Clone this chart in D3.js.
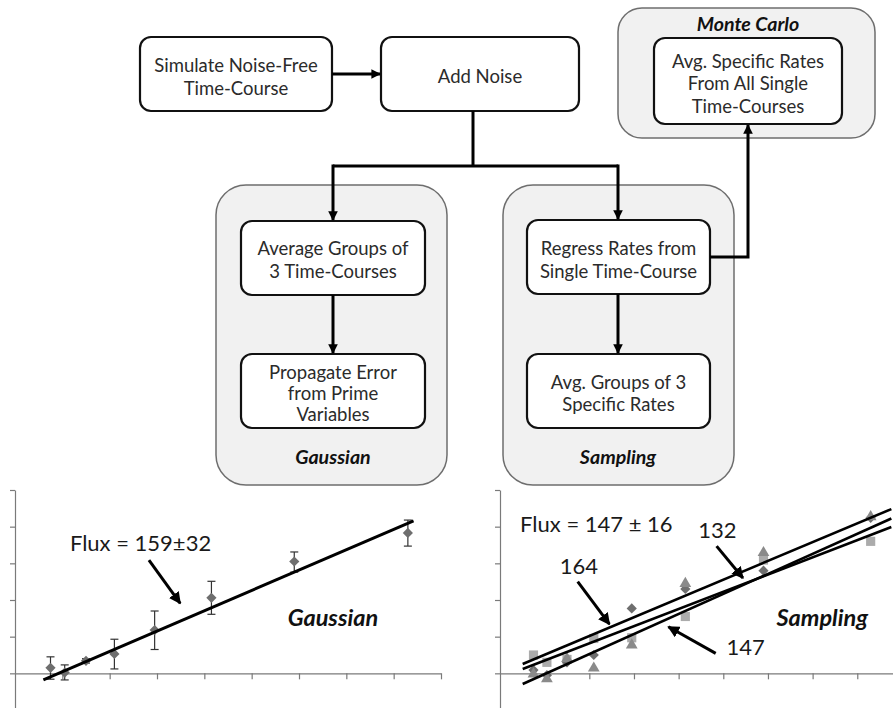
<!DOCTYPE html>
<html>
<head>
<meta charset="utf-8">
<script src="https://cdn.jsdelivr.net/npm/d3@7"></script>
<style>
  body { margin: 0; background: #fff; }
  svg { display: block; font-family: Lato, "Open Sans", sans-serif; }
</style>
</head>
<body>
<svg id="fig" width="893" height="708"></svg>
<script>
// ---- flowchart texts ----
const simulateText = ["Simulate Noise-Free", "Time-Course"];
const noiseText = ["Add Noise"];
const gaussStep1 = ["Average Groups of", "3 Time-Courses"];
const gaussStep2 = ["Propagate Error", "from Prime", "Variables"];
const sampStep1 = ["Regress Rates from", "Single Time-Course"];
const sampStep2 = ["Avg. Groups of 3", "Specific Rates"];
const monteText = ["Avg. Specific Rates", "From All Single", "Time-Courses"];
const groupTitles = ["Gaussian", "Sampling", "Monte Carlo"];

// ---- chart data ----
const timePoints = [0.75, 1.05, 1.5, 2.1, 2.95, 4.15, 5.9, 8.3];
const gaussMean = [0.15, 0.02, 0.34, 0.53, 1.18, 2.06, 3.05, 3.83];
const gaussLow  = [-0.16, -0.18, 0.28, 0.12, 0.65, 1.61, 2.76, 3.47];
const gaussHigh = [0.45, 0.23, 0.40, 0.93, 1.70, 2.51, 3.31, 4.18];
const gaussSlope = 0.555, gaussIntercept = -0.513;
const gaussFitRange = [0.6, 8.42];

const sampSquare   = [0.50, 0.30, 0.38, 0.95, 0.97, 1.55, 3.09, 3.60];
const sampDiamond  = [0.09, -0.05, 0.30, 0.50, 1.77, 2.30, 2.80, 4.24];
const sampTriangle = [-0.02, -0.15, 0.40, 0.14, 0.77, 2.45, 3.29, 4.27];
const sampSlopes = [0.512, 0.547, 0.469];
const sampIntercepts = [-0.007, -0.570, -0.121];
const sampFitRange = [0.508, 8.763];

const gaussLabel = "Flux  = 159±32";
const sampLabel = "Flux = 147 ± 16";
const fitLabels = ["164", "132", "147"];
const yTicks = [-1, 0, 1, 2, 3, 4, 5];

const svg = d3.select("#fig");
const textColor = "#2b2b2b";

const defs = svg.append("defs");
defs.append("marker")
    .attr("id", "head")
    .attr("viewBox", "0 0 10 10")
    .attr("refX", 9).attr("refY", 5)
    .attr("markerWidth", 3.2).attr("markerHeight", 3.2)
    .attr("markerUnits", "strokeWidth")
    .attr("orient", "auto")
    .append("path").attr("d", "M0,0 L10,5 L0,10 Z").attr("fill", "#000");
defs.append("marker")
    .attr("id", "bighead")
    .attr("viewBox", "0 0 10 10")
    .attr("refX", 9).attr("refY", 5)
    .attr("markerWidth", 4).attr("markerHeight", 4)
    .attr("markerUnits", "strokeWidth")
    .attr("orient", "auto")
    .append("path").attr("d", "M0,0 L10,5 L0,10 Z").attr("fill", "#000");

// ---- flowchart ----
function groupBox(x, y, w, h, r) {
    svg.append("rect")
        .attr("x", x).attr("y", y).attr("width", w).attr("height", h)
        .attr("rx", r).attr("ry", r)
        .attr("fill", "#f1f1f1").attr("stroke", "#6e6e6e").attr("stroke-width", 1.5);
}

function stepBox(x, y, w, h, lines, lineYs) {
    svg.append("rect")
        .attr("x", x).attr("y", y).attr("width", w).attr("height", h)
        .attr("rx", 11).attr("ry", 11)
        .attr("fill", "#fff").attr("stroke", "#111").attr("stroke-width", 2.2);
    svg.append("g").selectAll("text").data(lines).join("text")
        .attr("x", x + w / 2)
        .attr("y", (d, i) => lineYs[i])
        .attr("text-anchor", "middle")
        .attr("dominant-baseline", "central")
        .attr("font-size", 18.5)
        .attr("fill", textColor)
        .text(d => d);
}

function title(x, y, t) {
    svg.append("text")
        .attr("x", x).attr("y", y)
        .attr("text-anchor", "middle")
        .attr("dominant-baseline", "central")
        .attr("font-size", 19.6)
        .attr("font-weight", "bold")
        .attr("font-style", "italic")
        .attr("fill", "#111")
        .text(t);
}

function connector(points, withHead) {
    svg.append("path")
        .attr("d", d3.line()(points))
        .attr("fill", "none")
        .attr("stroke", "#000")
        .attr("stroke-width", 3)
        .attr("marker-end", withHead ? "url(#head)" : null);
}

groupBox(216, 185, 231, 300, 30);
groupBox(503, 185, 231, 300, 30);
groupBox(618, 8, 257, 130, 24);

stepBox(140, 37, 192, 74, simulateText, [65, 88]);
stepBox(381, 37, 198, 74, noiseText, [76]);
stepBox(241, 221, 184, 74, gaussStep1, [248, 271]);
stepBox(241, 354, 184, 74, gaussStep2, [372, 393, 414]);
stepBox(527, 220, 183, 74, sampStep1, [248, 271]);
stepBox(527, 354, 183, 74, sampStep2, [382, 404]);
stepBox(654, 38, 188, 86, monteText, [61, 83, 106]);

title(333, 456, groupTitles[0]);
title(618, 456, groupTitles[1]);
title(748, 23, groupTitles[2]);

connector([[332, 74], [380, 74]], true);
connector([[473, 111], [473, 166]], false);
connector([[333, 166], [618, 166]], false);
connector([[333, 164.5], [333, 220]], true);
connector([[618, 164.5], [618, 219]], true);
connector([[333, 295], [333, 353]], true);
connector([[618, 294], [618, 353]], true);
connector([[710, 257], [748, 257], [748, 125]], true);

// ---- charts ----
const gx = d3.scaleLinear().domain([0, 9]).range([15, 441]);
const sx = d3.scaleLinear().domain([0, 8.8]).range([500, 893]);
const y = d3.scaleLinear().domain([-1, 5]).range([710, 490]);

function drawAxes(x, xTicks) {
    const ya = svg.append("g")
        .attr("transform", "translate(" + x.range()[0] + ",0)")
        .call(d3.axisLeft(y).tickValues(yTicks).tickSize(5).tickSizeOuter(0).tickFormat(""));
    const xa = svg.append("g")
        .attr("transform", "translate(0," + y(0) + ")")
        .call(d3.axisBottom(x).tickValues(xTicks).tickSize(6).tickSizeOuter(0).tickFormat(""));
    [ya, xa].forEach(a => a.selectAll("path, line").attr("stroke", "#7a7a7a").attr("stroke-width", 1.2));
}

drawAxes(gx, d3.range(1, 10));
drawAxes(sx, d3.range(1, 9));

function fitLine(x, slope, intercept, range, width) {
    svg.append("line")
        .attr("x1", x(range[0])).attr("y1", y(slope * range[0] + intercept))
        .attr("x2", x(range[1])).attr("y2", y(slope * range[1] + intercept))
        .attr("stroke", "#000").attr("stroke-width", width);
}

function label(x, ux, uy, t, size, bold) {
    svg.append("text")
        .attr("x", x(ux)).attr("y", y(uy))
        .attr("dominant-baseline", "central")
        .attr("font-size", size)
        .attr("font-weight", bold ? "bold" : null)
        .attr("font-style", bold ? "italic" : null)
        .attr("fill", bold ? "#111" : "#1a1a1a")
        .text(t);
}

function pointer(x, from, to) {
    svg.append("line")
        .attr("x1", x(from[0])).attr("y1", y(from[1]))
        .attr("x2", x(to[0])).attr("y2", y(to[1]))
        .attr("stroke", "#000").attr("stroke-width", 3)
        .attr("marker-end", "url(#bighead)");
}

const diamond = d3.symbol().type(d3.symbolSquare).size(52);
const square = d3.symbol().type(d3.symbolSquare).size(84);
const triangle = d3.symbol().type(d3.symbolTriangle).size(60);

// Gaussian chart
const gErr = svg.append("g").attr("stroke", "#333").attr("stroke-width", 1.2);
timePoints.forEach((t, i) => {
    const cx = gx(t);
    gErr.append("line").attr("x1", cx).attr("x2", cx).attr("y1", y(gaussLow[i])).attr("y2", y(gaussHigh[i]));
    gErr.append("line").attr("x1", cx - 4).attr("x2", cx + 4).attr("y1", y(gaussLow[i])).attr("y2", y(gaussLow[i]));
    gErr.append("line").attr("x1", cx - 4).attr("x2", cx + 4).attr("y1", y(gaussHigh[i])).attr("y2", y(gaussHigh[i]));
});
svg.append("g").selectAll("path").data(timePoints).join("path")
    .attr("d", diamond)
    .attr("transform", (t, i) => "translate(" + gx(t) + "," + y(gaussMean[i]) + ") rotate(45)")
    .attr("fill", "#6e6e6e");
fitLine(gx, gaussSlope, gaussIntercept, gaussFitRange, 3);
label(gx, 1.16, 3.56, gaussLabel, 22, false);
label(gx, 5.76, 1.53, groupTitles[0], 23.5, true);
pointer(gx, [2.83, 3.09], [3.49, 1.91]);

// Sampling chart
svg.append("g").selectAll("path").data(timePoints).join("path")
    .attr("d", square)
    .attr("transform", (t, i) => "translate(" + sx(t) + "," + y(sampSquare[i]) + ")")
    .attr("fill", "#ababab");
svg.append("g").selectAll("path").data(timePoints).join("path")
    .attr("d", diamond)
    .attr("transform", (t, i) => "translate(" + sx(t) + "," + y(sampDiamond[i]) + ") rotate(45)")
    .attr("fill", "#6e6e6e");
svg.append("g").selectAll("path").data(timePoints).join("path")
    .attr("d", triangle)
    .attr("transform", (t, i) => "translate(" + sx(t) + "," + y(sampTriangle[i]) + ")")
    .attr("fill", "#8a8a8a");
sampSlopes.forEach((s, i) => fitLine(sx, s, sampIntercepts[i], sampFitRange, 2.6));

label(sx, 0.45, 4.09, sampLabel, 22, false);
label(sx, 1.34, 2.95, fitLabels[0], 22, false);
label(sx, 4.44, 3.92, fitLabels[1], 22, false);
label(sx, 5.07, 0.72, fitLabels[2], 22, false);
label(sx, 6.19, 1.53, groupTitles[1], 23.5, true);
pointer(sx, [1.74, 2.5], [2.45, 1.34]);
pointer(sx, [4.85, 3.47], [5.44, 2.6]);
pointer(sx, [4.83, 0.545], [3.77, 1.27]);
</script>
</body>
</html>
